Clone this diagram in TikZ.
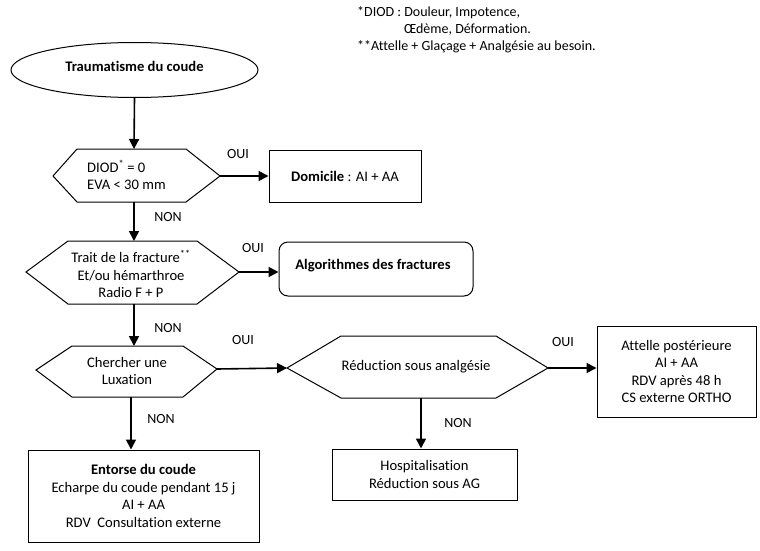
\documentclass[tikz,border=0pt]{standalone}
\usepackage{fontspec}
\setmainfont{Carlito}[Ligatures=NoCommon]
\usetikzlibrary{shapes.geometric,arrows.meta,calc}
\begin{document}
\begin{tikzpicture}[x=1pt,y=-1pt,
  every node/.style={font=\fontsize{14.6}{17.5}\selectfont, inner sep=0pt},
  shp/.style={draw=black, line width=1pt},
  box/.style={shp, rectangle},
  arr/.style={line width=1.6pt, -{Triangle[length=10pt,width=10pt]}},
  lbl/.style={font=\fontsize{14}{17}\selectfont}]
\useasboundingbox (0,0) rectangle (760,551);

% notes
\node[anchor=west, lbl] (n1) at (357,13) {*DIOD : Douleur, Impotence,};
\node[anchor=west, lbl] (n2) at (404,30) {Œdème, Déformation.};
\node[anchor=west, lbl] (n3) at (357,47) {**Attelle + Glaçage + Analgésie au besoin.};

% start ellipse
\node[shp, ellipse, minimum width=247pt, minimum height=55pt] (ell) at (134.5,70) {};
\node (elltxt) at (134.5,66) {\textbf{Traumatisme du coude}};

% hexagon 1
\coordinate (h1W) at (53,176); \coordinate (h1E) at (220,176);
\coordinate (h1N) at (134,149); \coordinate (h1S) at (134,202);
\draw[shp] (h1W) -- (77,149) -- (186,149) -- (h1E) -- (186,202) -- (77,202) -- cycle;
\node[anchor=west, align=left] (h1) at (87,175) {DIOD\textsuperscript{*} = 0\\EVA < 30 mm};

% domicile
\node[box, minimum width=152pt, minimum height=52pt] (dom) at (345,176) {\textbf{Domicile} : AI + AA};

% hexagon 2
\coordinate (h2W) at (26,272); \coordinate (h2E) at (239,272);
\coordinate (h2N) at (134,241); \coordinate (h2S) at (134,304);
\draw[shp] (h2W) -- (68,241) -- (197,241) -- (h2E) -- (197,304) -- (68,304) -- cycle;
\node[align=center] (h2) at (131,274) {Trait de la fracture\textsuperscript{**}\\Et/ou hémarthroe\\Radio F + P};

% algorithmes
\node[shp, rounded corners=9pt, minimum width=194pt, minimum height=54pt] (algo) at (376,269) {};
\node (algotxt) at (373,266) {\textbf{Algorithmes des fractures}};

% hexagon 3
\coordinate (h3W) at (36,370); \coordinate (h3E) at (217,369);
\coordinate (h3N) at (134,346); \coordinate (h3S) at (131,397);
\draw[shp] (h3W) -- (72,346) -- (183,346) -- (h3E) -- (183,397) -- (72,397) -- cycle;
\node[align=center] (h3) at (127,371) {Chercher une\\Luxation};

% hexagon 4
\coordinate (h4W) at (287,368); \coordinate (h4E) at (548,368);
\coordinate (h4S) at (421,398);
\draw[shp] (h4W) -- (341,336) -- (496,336) -- (h4E) -- (496,398) -- (341,398) -- cycle;
\node (h4) at (416,367) {Réduction sous analgésie};

% attelle
\node[box, minimum width=159pt, minimum height=91pt, align=center] (att) at (676.5,371.5)
  {Attelle postérieure\\AI + AA\\RDV après 48 h\\CS externe ORTHO};

% hospitalisation
\node[box, minimum width=185pt, minimum height=51pt, align=center] (hosp) at (424.5,474.5)
  {Hospitalisation\\Réduction sous AG};

% entorse
\node[box, minimum width=231pt, minimum height=92pt, align=center] (ent) at (143.5,496)
  {\textbf{Entorse du coude}\\Echarpe du coude pendant 15 j\\AI + AA\\RDV\ \ Consultation externe};

% connectors
\draw[arr] (ell.south) -- (h1N);
\draw[arr] (h1E) -- (h1E -| dom.west);
\draw[arr] (h1S) -- (h2N);
\draw[arr] (h2E) -- (h2E -| algo.west);
\draw[arr] (h2S) -- (h3N);
\draw[arr] (h3E) -- (h4W);
\draw[arr] (h4E) -- (h4E -| att.west);
\draw[arr] (h4S) -- (h4S |- hosp.north);
\draw[arr] (h3S) -- (h3S |- ent.north);

% labels
\node[lbl] (o1) at (238,154) {OUI};
\node[lbl] (no1) at (168,217) {NON};
\node[lbl] (o2) at (253,248) {OUI};
\node[lbl] (no2) at (168,328) {NON};
\node[lbl] (o3) at (243,340) {OUI};
\node[lbl] (o4) at (563,342) {OUI};
\node[lbl] (no4) at (458,423) {NON};
\node[lbl] (no3) at (161,419) {NON};
\end{tikzpicture}
\end{document}
